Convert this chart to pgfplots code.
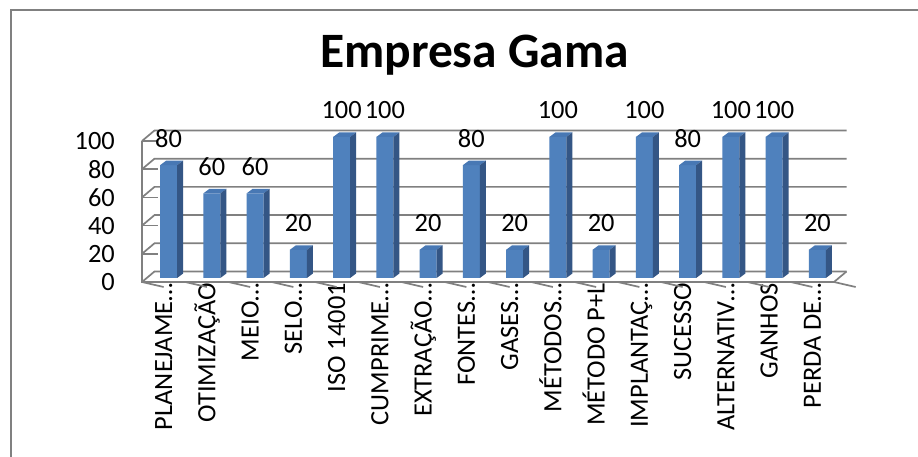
\documentclass[border=0pt]{standalone}
\usepackage{fontspec}
\setmainfont{Carlito}
\usepackage{pgfplots}
\pgfplotsset{compat=1.18}
\definecolor{barfront}{RGB}{79,129,189}
\definecolor{bartop}{RGB}{72,120,180}
\definecolor{barside}{RGB}{52,86,133}
\definecolor{gridc}{RGB}{128,128,128}
\pgfdeclareplotmark{bar3d}{%
  \pgfpathmoveto{\pgfpoint{-8.5bp}{0bp}}%
  \pgfpathlineto{\pgfpoint{8.5bp}{0bp}}%
  \pgfpathlineto{\pgfpoint{14.5bp}{4.5bp}}%
  \pgfpathlineto{\pgfpoint{-2.5bp}{4.5bp}}%
  \pgfpathclose
  \pgfsetfillcolor{bartop}\pgfusepath{fill}%
  \pgfpathmoveto{\pgfpoint{8.5bp}{0bp}}%
  \pgfpathlineto{\pgfpoint{14.5bp}{4.5bp}}%
  \pgfpathlineto{\pgfpoint{14.5bp}{4.5bp-\rawy*1.41bp}}%
  \pgfpathlineto{\pgfpoint{8.5bp}{-\rawy*1.41bp}}%
  \pgfpathclose
  \pgfsetfillcolor{barside}\pgfusepath{fill}%
}
\begin{document}
\begin{tikzpicture}
\useasboundingbox (0,0) rectangle (918bp,457bp);
\fill[white] (0,0) rectangle (918bp,457bp);
\draw[gridc, line width=1.5bp] (11bp,0) -- (11bp,447bp) -- (918bp,447bp);
\begin{axis}[
  at={(147bp,179bp)}, anchor=south west,
  scale only axis, width=692bp, height=141bp,
  xmin=-0.5, xmax=15.5, ymin=0, ymax=100,
  axis line style={draw=none}, major tick length=0pt,
  ytick={0,20,...,100}, xtick={0,...,15},
  xticklabels={PLANEJAME…, OTIMIZAÇÃO\hspace{16bp}, MEIO…, SELO…, ISO 14001\hspace{16bp}, CUMPRIME…, EXTRAÇÃO…, FONTES…, GASES…, MÉTODOS…, MÉTODO P+L\hspace{16bp}, IMPLANTAÇ…, SUCESSO\hspace{16bp}, ALTERNATIV…, GANHOS\hspace{16bp}, PERDA DE…},
  clip=false,
  /pgf/number format/assume math mode=true,
  ticklabel style={font=\fontsize{26.4bp}{31bp}\selectfont},
  yticklabel style={inner sep=0pt, anchor=east, xshift=-32bp, yshift=-4bp},
  xticklabel style={inner sep=0pt, anchor=base east, xshift=3.5bp, yshift=-5bp, rotate=90},
  title=Empresa Gama,
  title style={font=\fontsize{49.5bp}{58bp}\selectfont\bfseries, anchor=base, at={(axis description cs:0.4733,1.454)}},
]
\pgfplotsinvokeforeach{0,20,...,100}{
  \draw[gridc, line width=1.7bp] ([xshift=-5bp,yshift=-4bp]axis cs:-0.5,#1) -- ([xshift=7.5bp,yshift=6.5bp]axis cs:-0.5,#1) -- ([xshift=7.5bp,yshift=6.5bp]axis cs:15.5,#1);
  \draw[gridc, line width=1.7bp] ([xshift=-5bp,yshift=-4bp]axis cs:-0.5,#1) -- ++(-6bp,0);
}
\draw[gridc, line width=1.7bp] ([xshift=-5bp,yshift=-4bp]axis cs:-0.5,100) -- ([xshift=-5bp,yshift=-4bp]axis cs:-0.5,0) -- ([xshift=-5bp,yshift=-4bp]axis cs:15.5,0) -- ([xshift=7.5bp,yshift=6.5bp]axis cs:15.5,0);
\pgfplotsinvokeforeach{-0.5,0.5,...,15.5}{
  \draw[gridc, line width=1.7bp] ([xshift=-5bp,yshift=-4bp]axis cs:#1,0) -- ++(0,-5bp);
}
\addplot[ybar, bar width=17bp, fill=barfront, draw=none, nodes near coords,
  every node near coord/.append style={font=\fontsize{26.4bp}{31bp}\selectfont, inner sep=0pt, anchor=center, yshift=26.5bp, text=black}]
  coordinates {(0,80) (1,60) (2,60) (3,20) (4,100) (5,100) (6,20) (7,80) (8,20) (9,100) (10,20) (11,100) (12,80) (13,100) (14,100) (15,20)};
\addplot[only marks, mark=bar3d, visualization depends on={rawy \as \rawy}]
  coordinates {(0,80) (1,60) (2,60) (3,20) (4,100) (5,100) (6,20) (7,80) (8,20) (9,100) (10,20) (11,100) (12,80) (13,100) (14,100) (15,20)};
\end{axis}
\end{tikzpicture}
\end{document}
